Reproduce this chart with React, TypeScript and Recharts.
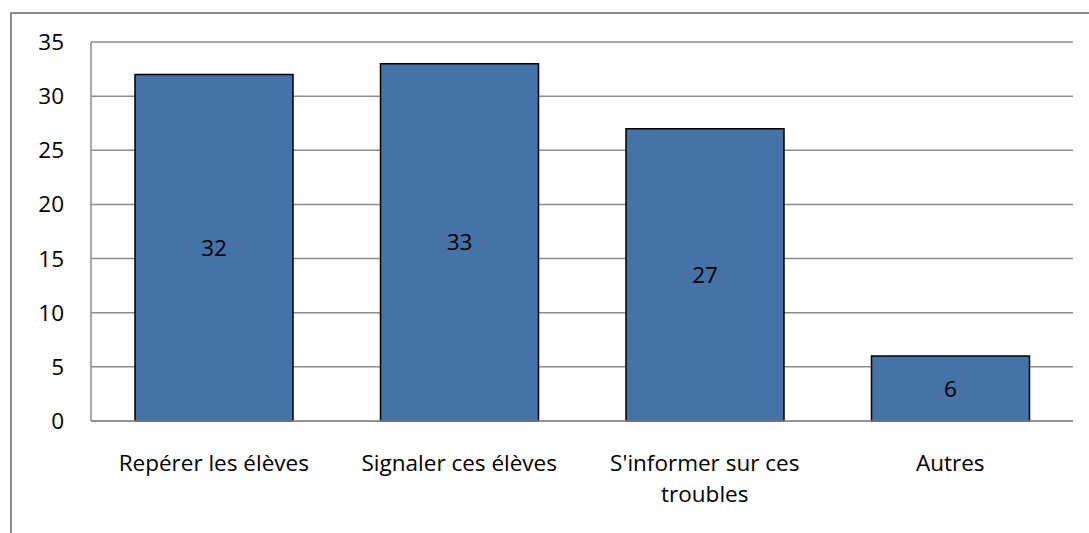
import { Bar, BarChart, CartesianGrid, LabelList, XAxis, YAxis } from "recharts";

const categories = [
  "Repérer les élèves",
  "Signaler ces élèves",
  "S'informer sur ces\ntroubles",
  "Autres",
];
const counts = [32, 33, 27, 6];
const yTicks = [0, 5, 10, 15, 20, 25, 30, 35];

const data = categories.map((name, i) => ({ name, value: counts[i] }));

const FONT = "'Open Sans', sans-serif";
const FONT_SIZE = 22.5;

function CategoryTick(props: any) {
  const { x, y, payload } = props;
  const lines = String(payload.value).split("\n");
  return (
    <text x={x} y={y} textAnchor="middle" fontSize={FONT_SIZE} fontFamily={FONT} fill="#000">
      {lines.map((line, i) => (
        <tspan key={i} x={x} dy={i === 0 ? 0 : 31}>
          {line}
        </tspan>
      ))}
    </text>
  );
}

export default function App() {
  return (
    <div style={{ position: "absolute", left: 0, top: 0, width: 1089, height: 533 }}>
      <div
        style={{
          position: "absolute",
          left: 10,
          top: 12,
          width: 1079,
          height: 521,
          boxSizing: "border-box",
          borderLeft: "2px solid #8c8c8c",
          borderTop: "2px solid #8c8c8c",
        }}
      />
      <BarChart
        width={1089}
        height={533}
        data={data}
        margin={{ top: 42, right: 16, bottom: 52, left: 0 }}
        style={{ position: "absolute", left: 0, top: 0 }}
      >
        <CartesianGrid vertical={false} stroke="#8c8c8c" strokeWidth={1.5} />
        <XAxis
          dataKey="name"
          height={60}
          interval={0}
          tickLine={false}
          tickSize={0}
          tickMargin={50}
          axisLine={{ stroke: "#8c8c8c", strokeWidth: 1.5 }}
          tick={<CategoryTick />}
        />
        <YAxis
          width={91}
          domain={[0, 35]}
          ticks={yTicks}
          interval={0}
          tickLine={false}
          tickSize={0}
          tickMargin={27}
          axisLine={{ stroke: "#8c8c8c", strokeWidth: 1.5 }}
          tick={{ fill: "#000", fontSize: FONT_SIZE, fontFamily: FONT }}
        />
        <Bar
          dataKey="value"
          fill="#4572a7"
          stroke="#000"
          strokeWidth={1.5}
          barSize={158}
          isAnimationActive={false}
        >
          <LabelList
            dataKey="value"
            position="center"
            fill="#000"
            fontSize={FONT_SIZE}
            fontFamily={FONT}
          />
        </Bar>
      </BarChart>
    </div>
  );
}
